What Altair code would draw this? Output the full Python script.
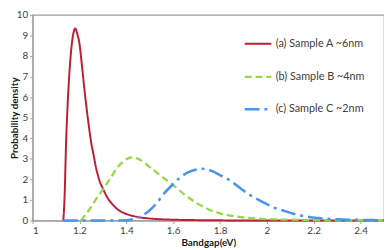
import altair as alt
import pandas as pd

names = ["(a) Sample A ~6nm", "(b) Sample B ~4nm", "(c) Sample C ~2nm"]
colors = ["#BE1E32", "#92D94A", "#4A94EC"]
dashes = [[1, 0], [7, 4], [15, 5, 3, 5]]
widths = [2.0, 2.6, 2.6]

a_x = [1.131, 1.136, 1.143, 1.153, 1.164, 1.174, 1.182, 1.19, 1.20, 1.21, 1.22, 1.23, 1.24,
       1.25, 1.26, 1.27, 1.28, 1.29, 1.30, 1.32, 1.34, 1.36, 1.38, 1.40, 1.43, 1.46, 1.50,
       1.55, 1.60, 1.70, 1.80, 1.90, 2.2, 2.5]
a_y = [0.0, 1.0, 3.8, 6.4, 8.2, 9.1, 9.34, 9.1, 8.6, 7.6, 6.5, 5.5, 4.6,
       3.8, 3.2, 2.6, 2.15, 1.8, 1.55, 1.1, 0.8, 0.57, 0.42, 0.32, 0.22, 0.15, 0.1,
       0.06, 0.04, 0.02, 0.01, 0.0, 0.0, 0.0]

b_x = [1.206, 1.22, 1.24, 1.26, 1.28, 1.30, 1.32, 1.34, 1.36, 1.38, 1.40, 1.425, 1.45,
       1.50, 1.55, 1.60, 1.65, 1.70, 1.75, 1.80, 1.85, 1.90, 1.95, 2.0, 2.1, 2.2, 2.3, 2.5]
b_y = [0.0, 0.2, 0.5, 0.85, 1.2, 1.5, 1.85, 2.2, 2.55, 2.8, 2.98, 3.07, 3.0,
       2.6, 2.15, 1.72, 1.25, 0.85, 0.55, 0.35, 0.23, 0.15, 0.1, 0.07, 0.04, 0.02, 0.01, 0.0]

c_x = [1.13, 1.2, 1.3, 1.38, 1.41, 1.44, 1.47, 1.50, 1.53, 1.56, 1.60, 1.63, 1.665, 1.70,
       1.72, 1.75, 1.78, 1.81, 1.835, 1.87, 1.90, 1.935, 1.97, 2.00, 2.03, 2.075, 2.11,
       2.145, 2.18, 2.22, 2.26, 2.30, 2.35, 2.40, 2.45, 2.50]
c_y = [0.0, 0.0, 0.0, 0.0, 0.02, 0.1, 0.25, 0.5, 0.85, 1.3, 1.77, 2.1, 2.35, 2.48,
       2.52, 2.47, 2.33, 2.15, 2.0, 1.72, 1.46, 1.19, 0.97, 0.8, 0.63, 0.47, 0.34,
       0.24, 0.17, 0.12, 0.08, 0.06, 0.04, 0.03, 0.02, 0.01]

x_ticks = [1, 1.2, 1.4, 1.6, 1.8, 2, 2.2, 2.4]
y_ticks = list(range(0, 11))

rows = []
for name, xs, ys in zip(names, [a_x, b_x, c_x], [a_y, b_y, c_y]):
    for i, (xv, yv) in enumerate(zip(xs, ys)):
        rows.append({"series": name, "x": xv, "y": yv, "order": i})
df = pd.DataFrame(rows)

FONT = "Lato"
PLOT_H = 209
legend = alt.Legend(
    title=None, orient="none", legendX=214, legendY=15, direction="vertical",
    symbolType="stroke", symbolSize=729, symbolStrokeWidth=2.4,
    labelFont=FONT, labelFontSize=11, labelColor="#404040", labelOffset=3,
    rowPadding=13, padding=0,
)

chart = alt.Chart(df).mark_line(interpolate="monotone").encode(
    x=alt.X("x:Q", scale=alt.Scale(domain=[1, 2.5], nice=False, zero=False),
            axis=alt.Axis(values=x_ticks, format=".1~f", title="Bandgap(eV)")),
    y=alt.Y("y:Q", scale=alt.Scale(domain=[0, 10], nice=False),
            axis=alt.Axis(values=y_ticks, title="Probability density",
                          titleX=-13, titleY=PLOT_H / 2, titleAngle=270,
                          titleBaseline="bottom", titleAlign="center")),
    color=alt.Color("series:N", scale=alt.Scale(domain=names, range=colors), legend=legend),
    strokeDash=alt.StrokeDash("series:N", scale=alt.Scale(domain=names, range=dashes), legend=legend),
    strokeWidth=alt.StrokeWidth("series:N", scale=alt.Scale(domain=names, range=widths), legend=legend),
    order="order:Q",
).properties(
    width=357, height=PLOT_H,
    autosize=alt.AutoSizeParams(type="none"),
    padding={"left": 25, "top": 5, "right": 0, "bottom": 28},
).configure_view(
    stroke="#9c9c9c", strokeWidth=1.2
).configure_axis(
    grid=False, domainColor="#9c9c9c", tickColor="#9c9c9c", tickSize=3,
    labelFont=FONT, labelFontSize=10, labelColor="#404040",
    titleFont=FONT, titleFontSize=10, titleFontWeight="bold", titleColor="#1a1a1a",
    labelPadding=2, titlePadding=2,
).configure_axisY(
    labelPadding=2,
)

chart.save("out.html", embed_options={"renderer": "svg", "actions": False})
